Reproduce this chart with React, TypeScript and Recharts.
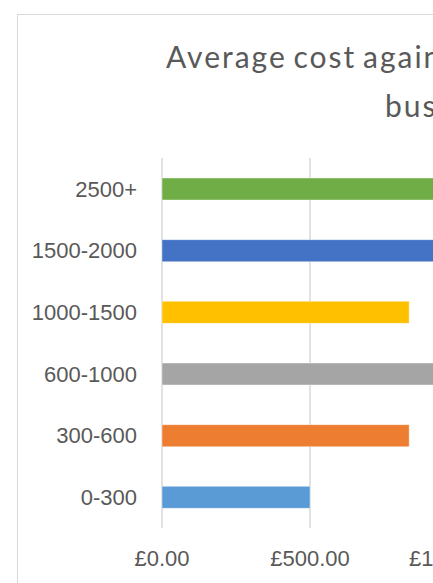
import { BarChart, Bar, XAxis, YAxis, CartesianGrid, Cell } from "recharts";

// size bands (employees), bottom to top as in the source sheet
const bands = ["0-300", "300-600", "600-1000", "1000-1500", "1500-2000", "2500+"];
const avgCost = [500, 835, 1190, 835, 1320, 1650];
const bandColors = ["#5b9bd5", "#ed7d31", "#a5a5a5", "#ffc000", "#4472c4", "#70ad47"];
const costTicks = [0, 500, 1000, 1500, 2000, 2500, 3000];

const titleLines = ["Average cost against size of the", "business"];

const data = bands.map((band, i) => ({ band, cost: avgCost[i] }));

const gbp = (v: number) =>
  "£" + v.toLocaleString("en-GB", { minimumFractionDigits: 2, maximumFractionDigits: 2 });

const tickFont = { fontFamily: "'Liberation Sans', Arial, sans-serif", fontSize: 22, fill: "#595959" };

const titleStyle = {
  position: "absolute" as const,
  whiteSpace: "nowrap" as const,
  fontFamily: "Lato, 'Open Sans', sans-serif",
  fontSize: 30,
  letterSpacing: 2,
  wordSpacing: -3,
  color: "#595959",
  lineHeight: "40px",
};

export default function App() {
  return (
    <div
      style={{
        position: "fixed",
        left: 0,
        top: 0,
        width: 433,
        height: 583,
        overflow: "hidden",
        background: "#fff",
      }}
    >
      <div
        style={{
          position: "absolute",
          left: 17,
          top: 14,
          width: 1090,
          height: 620,
          border: "1px solid #d9d9d9",
          background: "#fff",
        }}
      >
        <div style={{ ...titleStyle, left: 148, top: 21 }}>{titleLines[0]}</div>
        <div style={{ ...titleStyle, left: 367, top: 70 }}>{titleLines[1]}</div>
        <BarChart
          width={1090}
          height={620}
          data={data}
          layout="vertical"
          margin={{ top: 143, right: 58, bottom: 67, left: 0 }}
        >
          <CartesianGrid horizontal={false} stroke="#d9d9d9" strokeWidth={1.5} />
          <XAxis
            type="number"
            domain={[0, 3000]}
            ticks={costTicks}
            tickFormatter={gbp}
            axisLine={false}
            tickLine={false}
            tickSize={0}
            tickMargin={22}
            height={40}
            tick={tickFont}
            interval={0}
          />
          <YAxis
            type="category"
            dataKey="band"
            reversed
            width={144}
            axisLine={false}
            tickLine={false}
            tickSize={0}
            tickMargin={25}
            tick={tickFont}
            interval={0}
          />
          <Bar dataKey="cost" barSize={22} stroke="#ffffff" strokeOpacity={0.4} isAnimationActive={false}>
            {data.map((d, i) => (
              <Cell key={d.band} fill={bandColors[i]} />
            ))}
          </Bar>
        </BarChart>
      </div>
    </div>
  );
}
